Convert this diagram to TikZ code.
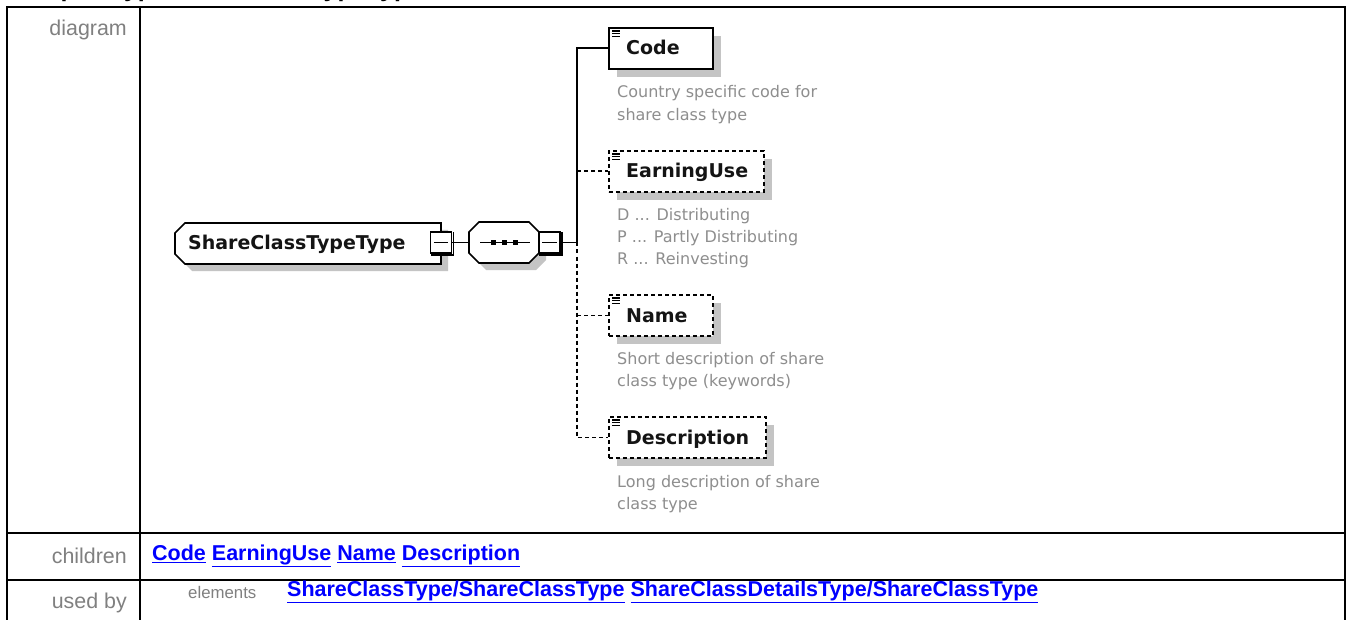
\documentclass[tikz,border=0pt]{standalone}
\usepackage{fontspec}
\setmainfont{Liberation Sans}
\newfontfamily\dv{DejaVu Sans}
\usetikzlibrary{shadows,calc}
\definecolor{lblgray}{HTML}{808080}
\definecolor{linkblue}{HTML}{0000FF}
\definecolor{shgray}{HTML}{C4C4C4}
\definecolor{descgray}{HTML}{8E8E8E}
\definecolor{eltxt}{HTML}{141414}
\tikzset{
 tbl/.style={line width=2.5pt, black},
 lbl/.style={font=\fontsize{21.4}{25}\selectfont, text=lblgray, inner sep=0pt},
 lnk/.style={font=\fontsize{21.5}{25}\selectfont\bfseries, text=linkblue, inner sep=0pt},
 elbox/.style={draw=black, line width=1.7pt, fill=white, minimum height=41pt, inner sep=0pt, anchor=north west,
   drop shadow={shadow xshift=8pt, shadow yshift=-8pt, fill=shgray, opacity=1}},
 optbox/.style={elbox, dash pattern=on 4pt off 3pt},
 eltext/.style={font=\dv\bfseries\fontsize{19}{23}\selectfont, text=eltxt, inner sep=0pt, anchor=base west},
 desc/.style={font=\dv\fontsize{16}{22.3}\selectfont, text=descgray, inner sep=0pt, anchor=base west, align=left},
 conn/.style={line width=1.7pt, black},
 dconn/.style={conn, dash pattern=on 4pt off 3pt},
 minusbox/.style={draw=black, line width=1.4pt, fill=white, minimum width=21pt, minimum height=21pt, inner sep=0pt},
 icon/.style={line width=1.3pt, black},
}
\newcommand{\lk}[1]{\underline{#1}}
\newcommand{\elicon}[1]{%
  \draw[icon] ($(#1.north west)+(4,4)$) -- ++(8,0);
  \draw[icon] ($(#1.north west)+(4,6.8)$) -- ++(8,0);
  \draw[icon] ($(#1.north west)+(4,9.6)$) -- ++(8,0);
}
\newcommand{\minussign}[1]{%
  \draw[line width=1.4pt] ($(#1.west)+(4,0)$) -- ($(#1.east)+(-4,0)$);
  \draw[line width=1.8pt] ($(#1.north east)+(1.2,1)$) -- ($(#1.south east)+(1.2,1.2)$) -- ($(#1.south west)+(1,1.2)$);
}
\begin{document}
\begin{tikzpicture}[x=1pt,y=-1pt]
\useasboundingbox (0,0) rectangle (1348,620);
\fill[white] (0,0) rectangle (1348,620);

% title (cut off at top)
\node[font=\fontsize{25}{30}\selectfont\bfseries, anchor=base west, inner sep=0pt] (title) at (9,-3) {complexType ShareClassTypeType};

% table
\draw[tbl] (7,620) -- (7,7) -- (1345,7) -- (1345,620);
\draw[tbl] (140,7) -- (140,620);
\draw[tbl] (7,533) -- (1345,533);
\draw[tbl] (7,580) -- (1345,580);

% row labels
\node[lbl, anchor=east] (lDiagram) at (127,30) {diagram};
\node[lbl, anchor=east] (lChildren) at (127,556) {children};
\node[lbl, anchor=east] (lUsedBy) at (127,603) {used by};
\node[lbl, font=\fontsize{16.8}{20}\selectfont, anchor=west] (lElements) at (188,592) {elements};

% links
\node[lnk, anchor=west] (children) at (152,556) {\lk{Code} \lk{EarningUse} \lk{Name} \lk{Description}};
\node[lnk, anchor=west] (usedby) at (287,592) {\lk{ShareClassType/ShareClassType} \lk{ShareClassDetailsType/ShareClassType}};

% main type node
\fill[shgray, shift={(7,7)}] (185,223) -- (441,223) -- (441,264) -- (185,264) -- (175,254) -- (175,233) -- cycle;
\draw[conn, fill=white] (185,223) -- (441,223) -- (441,264) -- (185,264) -- (175,254) -- (175,233) -- cycle;
\node[eltext] (mainT) at (188,250) {ShareClassTypeType};
\node[minusbox] (mm) at (441,242.5) {};
\minussign{mm}

% sequence node
\fill[shgray, shift={(7,7)}] (479,222) -- (529,222) -- (539,232) -- (539,253) -- (529,263) -- (479,263) -- (469,253) -- (469,232) -- cycle;
\draw[conn, fill=white] (479,222) -- (529,222) -- (539,232) -- (539,253) -- (529,263) -- (479,263) -- (469,253) -- (469,232) -- cycle;
\coordinate (seqL) at (469,242.5);
\draw[line width=1.4pt] (480,242.5) -- (530,242.5);
\fill (490.5,240) rectangle (495.5,245);
\fill (501.5,240) rectangle (506.5,245);
\fill (512.5,240) rectangle (517.5,245);
\node[minusbox] (sm) at (549.5,242.5) {};
\minussign{sm}
\coordinate (sp) at (577,242.5);
\draw[conn] (mm.east) -- (seqL);

% children
\node[elbox, minimum width=104pt] (code) at (608,27) {};
\node[optbox, minimum width=155pt] (earn) at (608,150) {};
\node[optbox, minimum width=104pt] (name) at (608,294) {};
\node[optbox, minimum width=157pt] (descr) at (608,416) {};
\elicon{code}\elicon{earn}\elicon{name}\elicon{descr}

\node[eltext] (codeT) at (626,55) {Code};
\node[eltext] (earnT) at (626,178) {EarningUse};
\node[eltext] (nameT) at (626,322) {Name};
\node[eltext] (descrT) at (626,444) {Description};

% descriptions (base anchor = baseline of last line)
\node[desc] (codeD) at (617,120.3) {Country specific code for\\share class type};
\node[desc] (earnD) at (617,264.6) {D ... Distributing\\P ... Partly Distributing\\R ... Reinvesting};
\node[desc] (nameD) at (617,386.3) {Short description of share\\class type (keywords)};
\node[desc] (descrD) at (617,509.3) {Long description of share\\class type};

% connectors
\draw[conn] (sm.east) -- (sp);
\draw[conn] (sp) |- (code.west);
\draw[dconn] (earn.west -| sp) -- (earn.west);
\draw[dconn] (name.west -| sp) -- (name.west);
\draw[dconn] (sp) |- (descr.west);
\end{tikzpicture}
\end{document}
